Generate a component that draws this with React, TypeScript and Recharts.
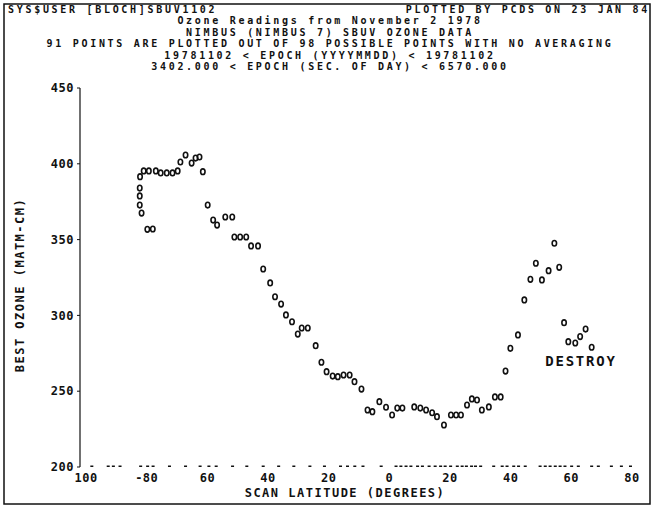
import { ScatterChart, Scatter, XAxis, YAxis } from "recharts";

// scan latitude (deg) and best ozone (matm-cm)
const latitude = [
  -82.3, -82.3, -82.3, -81.7, -79.8, -78.0, -82.2, -81.0, -79.3, -77.0,
  -75.4, -73.4, -71.5, -69.8, -68.9, -67.2, -65.2, -63.9, -62.6, -61.5,
  -59.9, -58.1, -56.8, -54.1, -51.8, -51.1, -49.2, -47.2, -45.6, -43.3,
  -41.6, -39.3, -37.7, -35.7, -34.1, -32.1, -30.2, -28.9, -26.9, -24.3,
  -22.4, -20.7, -18.7, -17.0, -15.1, -13.1, -11.5, -9.2, -7.2, -5.6,
  -3.3, -1.1, 0.9, 2.6, 4.3, 8.2, 10.2, 12.1, 14.1, 15.7,
  18.0, 20.3, 22.0, 23.6, 25.6, 27.2, 28.9, 30.5, 32.8, 34.8,
  36.7, 38.3, 39.9, 42.4, 44.5, 46.5, 48.3, 50.3, 52.5, 54.4,
  56.0, 57.6, 59.0, 61.3, 62.9, 64.7, 66.7,
];
const ozone = [
  384, 378.8, 372.8, 367.5, 356.8, 357, 391.5, 395.3, 395.3, 395.3,
  394, 394, 394, 395.3, 401.2, 405.8, 400.5, 403.8, 404.5, 394.8,
  372.8, 362.9, 359.6, 364.9, 364.9, 351.7, 351.7, 351.7, 345.8, 345.8,
  330.6, 321.4, 312.3, 307.5, 300.3, 295.8, 287.7, 291.7, 291.7, 280,
  269.1, 262.9, 260, 259.6, 260.7, 260.7, 256.3, 251.4, 237.6, 236.5,
  243.1, 239.4, 234.3, 238.9, 238.9, 239.6, 238.9, 237.6, 235.8, 233.2,
  227.7, 234.3, 234.3, 234.3, 240.9, 244.9, 244.2, 237.6, 239.6, 246.2,
  246.2, 263.3, 278.3, 287.1, 310.2, 323.8, 334.4, 323.4, 329.5, 347.6,
  331.7, 295.2, 282.7, 281.8, 286, 291, 279,
];

// dotted baseline marks along the 200 line
const axisDots = [
  -98.1, -92.7, -91.0, -88.8, -82.0, -79.7, -77.9, -72.5, -67.2, -62.4,
  -59.5, -57.1, -51.7, -47.0, -41.6, -36.5, -31.5, -26.2, -21.4, -16.1,
  -13.8, -11.4, -8.7, -2.7, 2.2, 3.8, 5.5, 7.1, 9.3, 10.9,
  13.1, 15.1, 16.9, 18.4, 20.2, 22.4, 24.0, 25.4, 27.1, 28.4,
  30.1, 34.4, 37.2, 38.8, 41.0, 42.6, 44.8, 49.7, 51.4, 53.0,
  54.7, 56.3, 57.9, 60.1, 62.3, 66.7, 68.9, 73.2, 76.5, 79.5,
];

const xTicks = [-100, -80, -60, -40, -20, 0, 20, 40, 60, 80];
const xTickLabels = ["100", "-80", "60", "40", "20", "0", "20", "40", "60", "80"];
const yTicks = [200, 250, 300, 350, 400, 450];

const headerLines = [
  "Ozone Readings from November 2  1978",
  "NIMBUS (NIMBUS 7) SBUV OZONE DATA",
  "91 POINTS ARE PLOTTED OUT OF 98 POSSIBLE POINTS WITH NO AVERAGING",
  "19781102 < EPOCH (YYYYMMDD) < 19781102",
  "3402.000 < EPOCH (SEC. OF DAY) < 6570.000",
];

const points = latitude.map((lat, i) => ({ lat, oz: ozone[i] }));
const rug = axisDots.map((lat) => ({ lat, oz: 200 }));

const FONT = "'DejaVu Sans Mono', monospace";
const txt = {
  fontFamily: FONT,
  fontSize: 12,
  fontWeight: 700,
  letterSpacing: 1.5,
  fill: "#111",
};
const head = { ...txt, fontSize: 10, letterSpacing: 2.7 };

const Mark = (props: any) => (
  <ellipse
    cx={props.cx}
    cy={props.cy}
    rx={2.2}
    ry={2.8}
    fill="none"
    stroke="#111"
    strokeWidth={1.6}
  />
);

const Dot = (props: any) => (
  <rect x={props.cx - 1.5} y={props.cy - 1.5} width={3} height={3} fill="#111" />
);

export default function App() {
  return (
    <div
      style={{
        position: "absolute",
        left: 0,
        top: 0,
        width: 660,
        height: 507,
        background: "#fff",
      }}
    >
      <ScatterChart
        width={660}
        height={507}
        margin={{ top: 88, right: 28, bottom: 10, left: 0 }}
      >
        <XAxis
          type="number"
          dataKey="lat"
          domain={[-102, 80]}
          ticks={xTicks}
          tickFormatter={(v: number) => xTickLabels[xTicks.indexOf(v)] ?? ""}
          axisLine={false}
          tickLine={false}
          tickSize={0}
          tickMargin={6}
          height={30}
          interval={0}
          allowDataOverflow
          tick={{ ...txt, letterSpacing: 0.5 }}
        />
        <YAxis
          type="number"
          dataKey="oz"
          domain={[200, 450]}
          ticks={yTicks}
          width={80}
          axisLine={{ stroke: "#111", strokeWidth: 1.2 }}
          tickLine={{ stroke: "#111" }}
          tickSize={3}
          tickMargin={3}
          allowDataOverflow
          tick={{ ...txt, letterSpacing: 0.5 }}
        />
        <Scatter data={rug} shape={Dot} isAnimationActive={false} />
        <Scatter data={points} shape={Mark} isAnimationActive={false} />
      </ScatterChart>

      <svg
        width={660}
        height={507}
        style={{ position: "absolute", left: 0, top: 0, pointerEvents: "none" }}
      >
        <rect x={4} y={4} width={646} height={500} fill="none" stroke="#111" strokeWidth={1.5} />
        <text x={8} y={13} {...head}>SYS$USER [BLOCH]SBUV1102</text>
        <text x={650} y={13} textAnchor="end" {...head}>PLOTTED BY PCDS ON 23 JAN 84</text>
        {headerLines.map((line, i) => (
          <text key={i} x={330} y={24.4 + i * 11.4} textAnchor="middle" {...head}>
            {line}
          </text>
        ))}
        <text
          x={0}
          y={0}
          transform="translate(24 285) rotate(-90)"
          textAnchor="middle"
          {...txt}
        >
          BEST OZONE (MATM-CM)
        </text>
        <text x={345} y={497} textAnchor="middle" {...txt}>
          SCAN LATITUDE (DEGREES)
        </text>
        <text x={581} y={366} textAnchor="middle" {...txt} fontSize={14} letterSpacing={1.8}>
          DESTROY
        </text>
      </svg>
    </div>
  );
}
